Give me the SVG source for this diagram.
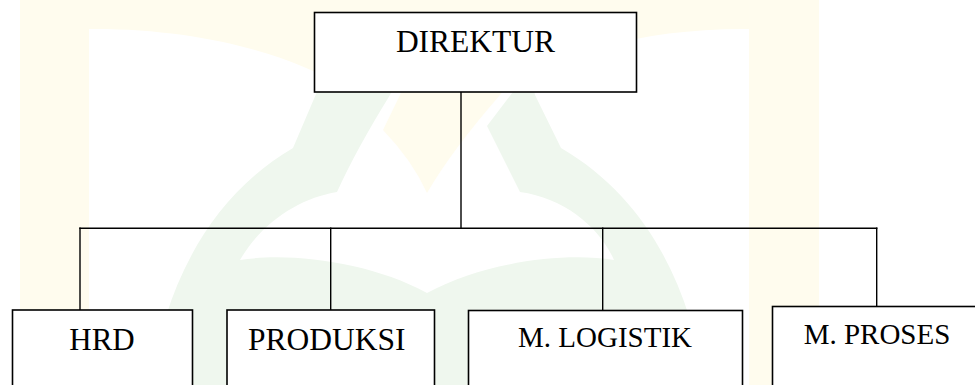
<svg xmlns="http://www.w3.org/2000/svg" width="975" height="385" viewBox="0 0 975 385">
  <style>
    .box { fill: #ffffff; stroke: #000000; stroke-width: 1.6; }
    .label { font-family: "Liberation Serif", "Times New Roman", serif; fill: #000000; text-anchor: middle; }
    .wire { fill: none; stroke: #000000; stroke-width: 1.4; stroke-linecap: square; }
    .cream { fill: #fffcee; }
    .mint { fill: #eff7ee; }
  </style>

  <!-- faint background emblem -->
  <g id="emblem">
    <path class="cream" fill-rule="evenodd"
          d="M20,0 H819 V385 H20 Z
             M89,385 V29 C200,28 290,55 340,85 L510,85 C560,55 640,28 749,29 V385 Z"/>
    <path class="mint"
          d="M150,385 C165,290 205,200 293,148
             L322,80 L396,80 L390,95 Q356,150 337,192
             C300,198 262,222 240,260
             C290,252 370,262 427,293
             C484,262 564,252 614,260
             C600,228 565,198 520,192
             L487,126 L522,80 L532,80 L535,95 L561,148
             C650,200 690,290 705,385 Z"/>
    <path class="cream"
          d="M405,80 L400,95 L383,130 Q412,160 427,193 Q452,150 500,95 L510,80 Z"/>
  </g>

  <!-- connectors -->
  <g id="connectors">
    <path class="wire" d="M461,92 V228.3"/>
    <path class="wire" d="M80,228.3 H876.7"/>
    <path class="wire" d="M80,228.3 V310"/>
    <path class="wire" d="M330.7,228.3 V310"/>
    <path class="wire" d="M602.7,228.3 V310.5"/>
    <path class="wire" d="M876.7,228.3 V306.5"/>
  </g>

  <g id="direktur">
    <rect class="box" x="314.5" y="12.5" width="322" height="79.5"/>
    <text class="label" x="475.5" y="52.3" font-size="31.5">DIREKTUR</text>
  </g>

  <g id="hrd">
    <rect class="box" x="12.5" y="310" width="180" height="90"/>
    <text class="label" x="102" y="350" font-size="31">HRD</text>
  </g>

  <g id="produksi">
    <rect class="box" x="227" y="310" width="207.5" height="90"/>
    <text class="label" x="326.7" y="350" font-size="31.5">PRODUKSI</text>
  </g>

  <g id="logistik">
    <rect class="box" x="468.5" y="310.5" width="274" height="90"/>
    <text class="label" x="605" y="347.3" font-size="29">M. LOGISTIK</text>
  </g>

  <g id="proses">
    <rect class="box" x="772.5" y="306.5" width="215" height="95"/>
    <text class="label" x="877" y="343.5" font-size="29">M. PROSES</text>
  </g>
</svg>
